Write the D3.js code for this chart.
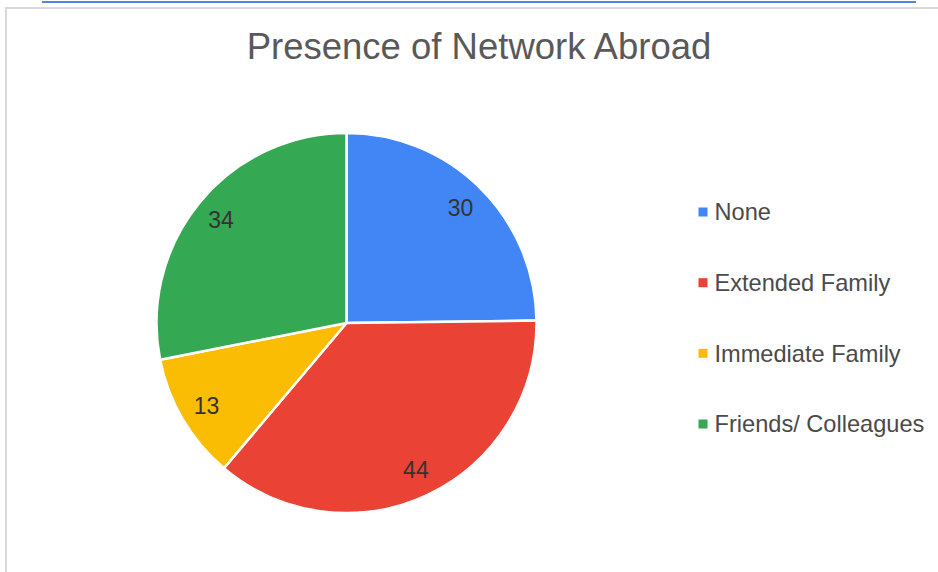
<!DOCTYPE html>
<html><head><meta charset="utf-8">
<script src="https://cdn.jsdelivr.net/npm/d3@7/dist/d3.min.js"></script>
<style>html,body{margin:0;padding:0;background:#fff;}svg{display:block;}</style>
</head><body>
<svg id="c" width="938" height="572"></svg>
<script>
const categories = ["None", "Extended Family", "Immediate Family", "Friends/ Colleagues"];
const values = [30, 44, 13, 34];
const colors = ["#4285f4", "#ea4335", "#fbbc04", "#34a853"];
const title = "Presence of Network Abroad";

const svg = d3.select("#c");
const font = "Liberation Sans, Arial, sans-serif";

// frame
svg.append("line").attr("x1", 42).attr("x2", 916).attr("y1", 2).attr("y2", 2)
  .attr("stroke", "#1a5fd0").attr("stroke-width", 1.5);
svg.append("rect").attr("x", 6).attr("y", 8).attr("width", 940).attr("height", 580)
  .attr("fill", "none").attr("stroke", "#d9d9d9").attr("stroke-width", 2);

svg.append("text").attr("x", 479).attr("y", 59).attr("text-anchor", "middle")
  .attr("font-family", font).attr("font-size", 36.5).attr("fill", "#595959").text(title);

const cx = 346.5, cy = 323, r = 190;
const pie = d3.pie().sort(null).value(d => d)(values);
const arc = d3.arc().innerRadius(0).outerRadius(r);
const labelArc = d3.arc().innerRadius(r * 0.855).outerRadius(r * 0.855);
const g = svg.append("g").attr("transform", `translate(${cx},${cy})`);
g.selectAll("path").data(pie).join("path")
  .attr("d", arc).attr("fill", (d, i) => colors[i])
  .attr("stroke", "#fff").attr("stroke-width", 2.5).attr("stroke-linejoin", "round");
g.selectAll("text").data(pie).join("text")
  .attr("transform", d => `translate(${labelArc.centroid(d)})`)
  .attr("text-anchor", "middle").attr("dy", "0.36em")
  .attr("font-family", font).attr("font-size", 23).attr("fill", "#333")
  .text(d => d.data);

const y = d3.scalePoint().domain(categories).range([212, 424]);
const lg = svg.append("g");
lg.selectAll("rect").data(categories).join("rect")
  .attr("x", 698.5).attr("y", d => y(d) - 4.5).attr("width", 9).attr("height", 9)
  .attr("fill", (d, i) => colors[i]);
lg.selectAll("text").data(categories).join("text")
  .attr("x", 714.5).attr("y", d => y(d)).attr("dy", "0.36em")
  .attr("font-family", font).attr("font-size", 23.6).attr("fill", "#4a4a4a")
  .text(d => d);
</script>
</body></html>
